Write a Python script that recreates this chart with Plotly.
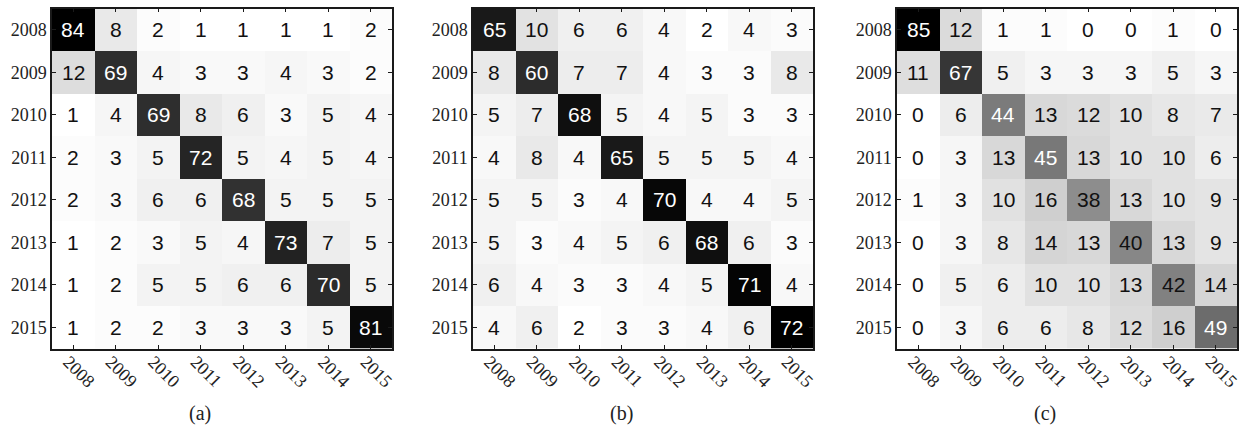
import plotly.graph_objects as go

years = ["2008", "2009", "2010", "2011", "2012", "2013", "2014", "2015"]

matrix_a = [
    [84, 8, 2, 1, 1, 1, 1, 2],
    [12, 69, 4, 3, 3, 4, 3, 2],
    [1, 4, 69, 8, 6, 3, 5, 4],
    [2, 3, 5, 72, 5, 4, 5, 4],
    [2, 3, 6, 6, 68, 5, 5, 5],
    [1, 2, 3, 5, 4, 73, 7, 5],
    [1, 2, 5, 5, 6, 6, 70, 5],
    [1, 2, 2, 3, 3, 3, 5, 81],
]
matrix_b = [
    [65, 10, 6, 6, 4, 2, 4, 3],
    [8, 60, 7, 7, 4, 3, 3, 8],
    [5, 7, 68, 5, 4, 5, 3, 3],
    [4, 8, 4, 65, 5, 5, 5, 4],
    [5, 5, 3, 4, 70, 4, 4, 5],
    [5, 3, 4, 5, 6, 68, 6, 3],
    [6, 4, 3, 3, 4, 5, 71, 4],
    [4, 6, 2, 3, 3, 4, 6, 72],
]
matrix_c = [
    [85, 12, 1, 1, 0, 0, 1, 0],
    [11, 67, 5, 3, 3, 3, 5, 3],
    [0, 6, 44, 13, 12, 10, 8, 7],
    [0, 3, 13, 45, 13, 10, 10, 6],
    [1, 3, 10, 16, 38, 13, 10, 9],
    [0, 3, 8, 14, 13, 40, 13, 9],
    [0, 5, 6, 10, 10, 13, 42, 14],
    [0, 3, 6, 6, 8, 12, 16, 49],
]
panel_labels = ["(a)", "(b)", "(c)"]

W, H = 1242, 427
panels = [matrix_a, matrix_b, matrix_c]
lefts = [52, 473, 897]
size = 340
top, bottom = 8.5, 348.5
idx = list(range(len(years)))
serif = "Liberation Serif"

fig = go.Figure()
annotations = []
for i, (m, left) in enumerate(zip(panels, lefts)):
    sfx = "" if i == 0 else str(i + 1)
    flat = [v for row in m for v in row]
    zmin, zmax = min(flat), max(flat)
    fig.add_trace(go.Heatmap(
        z=m, x=idx, y=idx,
        colorscale=[[0, "white"], [1, "black"]],
        zmin=zmin, zmax=zmax, showscale=False,
        xaxis="x" + sfx, yaxis="y" + sfx, hoverinfo="skip",
    ))
    mid = (zmin + zmax) / 2
    for r, row in enumerate(m):
        for c, v in enumerate(row):
            annotations.append(dict(
                x=idx[c], y=idx[r], xref="x" + sfx, yref="y" + sfx,
                text=str(v), showarrow=False,
                font=dict(family="Liberation Sans", size=21,
                          color="white" if v > mid else "#111111"),
            ))
    axcommon = dict(
        showline=True, mirror="ticks", linecolor="#1a1a1a", linewidth=1.5,
        ticks="inside", ticklen=4, tickcolor="#1a1a1a", tickwidth=1,
        showgrid=False, zeroline=False, fixedrange=True, automargin=False,
        tickmode="array", tickvals=idx, ticktext=years,
        ticklabeloverflow="allow",
        tickfont=dict(family=serif, size=18, color="#222222"),
    )
    fig.layout["xaxis" + sfx] = dict(
        axcommon, domain=[left / W, (left + size) / W], anchor="y" + sfx,
        tickangle=45, range=[-0.5, 7.5],
        ticklabelstandoff=-6, ticklabelshift=-5,
    )
    fig.layout["yaxis" + sfx] = dict(
        axcommon, domain=[(H - bottom) / H, (H - top) / H], anchor="x" + sfx,
        range=[7.5, -0.5],
    )
    annotations.append(dict(
        x=(left + size / 2 - 22) / W, y=(H - 413) / H, xref="paper", yref="paper",
        text=panel_labels[i], showarrow=False, xanchor="center", yanchor="middle",
        font=dict(family=serif, size=20, color="#222222"),
    ))

fig.update_layout(
    width=W, height=H, margin=dict(l=0, r=0, t=0, b=0, autoexpand=False),
    paper_bgcolor="white", plot_bgcolor="white",
    annotations=annotations,
)
fig.write_html(
    "out.html",
    config={"displayModeBar": False},
    post_script="document.body.style.margin='0';document.body.style.padding='0';document.body.style.overflow='hidden';",
)
